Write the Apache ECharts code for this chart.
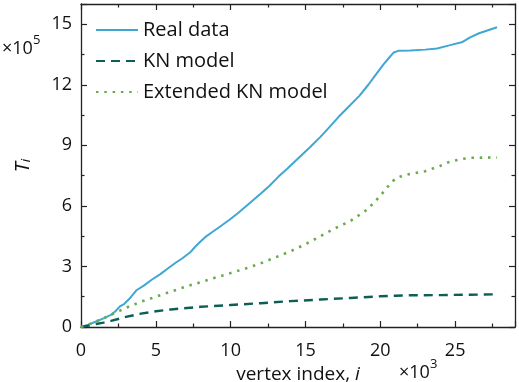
<!DOCTYPE html>
<html>
<head>
<meta charset="utf-8">
<script src="https://cdn.jsdelivr.net/npm/echarts@6/dist/echarts.min.js"></script>
<style>
  html, body { margin: 0; padding: 0; background: #fff; }
  #chart { width: 519px; height: 382px; }
</style>
</head>
<body>
<div id="chart"></div>
<script>
  // x in thousands of vertices, y in units of 1e5
  var realX = [0, 0.5, 1, 1.5, 2, 2.3, 2.6, 2.9, 3.3, 3.7, 4.2, 4.7, 5.3, 5.8, 6.3, 6.8, 7.3, 7.6, 8.0, 8.3, 8.8, 9.3, 9.9, 10.5, 11.3, 12.0, 12.6, 13.2, 13.8, 14.5, 15.3, 16.0, 16.6, 17.2, 17.8, 18.6, 19.2, 19.7, 20.2, 20.6, 20.9, 21.2, 22.0, 23.0, 23.8, 24.6, 25.5, 26.0, 26.6, 27.2, 27.8]
  var realY = [0, 0.12, 0.27, 0.43, 0.6, 0.78, 1.02, 1.15, 1.45, 1.82, 2.05, 2.33, 2.62, 2.9, 3.17, 3.42, 3.7, 3.95, 4.25, 4.45, 4.72, 4.98, 5.3, 5.65, 6.15, 6.6, 7.0, 7.45, 7.85, 8.35, 8.9, 9.42, 9.9, 10.4, 10.85, 11.45, 12.0, 12.5, 13.0, 13.35, 13.6, 13.68, 13.7, 13.74, 13.8, 13.95, 14.12, 14.35, 14.55, 14.7, 14.85]
  var knX = [0, 0.5, 1, 1.5, 2, 3, 4, 5, 6, 8, 10, 12, 14, 16, 18, 20, 21, 22, 24, 26, 27.7]
  var knY = [0, 0.07, 0.15, 0.22, 0.3, 0.5, 0.66, 0.78, 0.87, 1.0, 1.09, 1.18, 1.28, 1.36, 1.44, 1.52, 1.55, 1.57, 1.58, 1.6, 1.62]
  var extX = [0, 0.5, 1, 1.5, 2, 3, 4, 5, 6, 7, 8, 9, 10, 11, 12, 13, 14, 15, 16, 17, 18, 19, 19.5, 20, 20.5, 21, 21.5, 22, 23, 24, 24.5, 25, 25.5, 26, 27, 27.8]
  var extY = [0, 0.12, 0.27, 0.43, 0.6, 0.95, 1.25, 1.5, 1.75, 2.0, 2.22, 2.45, 2.67, 2.9, 3.15, 3.45, 3.75, 4.1, 4.5, 4.9, 5.25, 5.75, 6.1, 6.5, 6.95, 7.35, 7.5, 7.58, 7.72, 7.98, 8.15, 8.25, 8.33, 8.38, 8.39, 8.4]
  var xTicks = [0, 5, 10, 15, 20, 25]
  var yTicks = [0, 3, 6, 9, 12, 15]

  function pairs(xs, ys) {
    return xs.map(function (x, i) { return [x, ys[i]] })
  }

  var font = 'Open Sans'
  var ink = '#111'
  var axisColor = '#222'

  function frameAxis(pos, isX, showLabels) {
    var ticks = isX ? xTicks : yTicks
    return {
      type: 'value',
      position: pos,
      min: 0,
      max: isX ? 29 : 16,
      interval: isX ? 5 : 3,
      axisLine: { show: true, onZero: false, lineStyle: { color: axisColor, width: 1.3 } },
      axisTick: { show: true, inside: true, length: 6, lineStyle: { color: axisColor, width: 1.2 } },
      minorTick: { show: true, splitNumber: 2, length: 3.5, lineStyle: { color: axisColor, width: 1.2 } },
      splitLine: { show: false },
      axisLabel: {
        show: showLabels,
        margin: isX ? 15 : 9,
        fontFamily: font,
        fontSize: 18,
        color: ink,
        showMaxLabel: false,
        formatter: function (v) { return ticks.indexOf(v) >= 0 ? String(v) : '' }
      }
    }
  }

  var xBottom = frameAxis('bottom', true, true)
  xBottom.name = 'vertex index, {i|i}'
  xBottom.nameLocation = 'middle'
  xBottom.nameGap = 31
  xBottom.nameTextStyle = { fontFamily: font, fontSize: 19, color: ink, rich: { i: { fontFamily: font, fontSize: 19, fontStyle: 'italic', color: ink } } }

  var yLeft = frameAxis('left', false, true)
  yLeft.name = '{t|T}{s|i}'
  yLeft.nameLocation = 'middle'
  yLeft.nameGap = 48
  yLeft.nameTextStyle = {
    rich: {
      t: { fontFamily: font, fontSize: 20, fontStyle: 'italic', color: ink, verticalAlign: 'bottom' },
      s: { fontFamily: font, fontSize: 13, fontStyle: 'italic', color: ink, verticalAlign: 'bottom', padding: [10, 0, 0, 0] }
    }
  }

  function power(txt, exp) {
    return {
      text: '{a|' + txt + '}{b|' + exp + '}',
      rich: {
        a: { fontFamily: font, fontSize: 18, lineHeight: 24, verticalAlign: 'bottom', fill: ink },
        b: { fontFamily: font, fontSize: 13, lineHeight: 24, verticalAlign: 'top', fill: ink }
      }
    }
  }

  var chart = echarts.init(document.getElementById('chart'))
  chart.setOption({
    animation: false,
    backgroundColor: '#fff',
    grid: { left: 81, right: 4, top: 4, bottom: 55, containLabel: false, outerBoundsMode: 'none' },
    legend: {
      left: 90,
      top: 15,
      orient: 'vertical',
      itemWidth: 42,
      itemHeight: 14,
      itemGap: 11,
      itemStyle: { opacity: 0 },
      textStyle: { fontFamily: font, fontSize: 20, color: ink },
      data: ['Real data', 'KN model', 'Extended KN model']
    },
    xAxis: [xBottom, frameAxis('top', true, false)],
    yAxis: [yLeft, frameAxis('right', false, false)],
    graphic: [
      { type: 'text', left: 2, top: 34, style: power('×10', '5') },
      { type: 'text', left: 399, top: 358, style: power('×10', '3') }
    ],
    series: [
      {
        name: 'Real data',
        type: 'line',
        symbol: 'none',
        data: pairs(realX, realY),
        lineStyle: { color: '#3fa7d2', width: 2 },
        itemStyle: { color: '#3fa7d2' }
      },
      {
        name: 'KN model',
        type: 'line',
        symbol: 'none',
        data: pairs(knX, knY),
        lineStyle: { color: '#0c5f52', width: 2.4, type: [9, 6] },
        itemStyle: { color: '#0c5f52' }
      },
      {
        name: 'Extended KN model',
        type: 'line',
        symbol: 'none',
        data: pairs(extX, extY),
        lineStyle: { color: '#6aaa4c', width: 2.6, type: [2.5, 5.8] },
        itemStyle: { color: '#6aaa4c' }
      }
    ]
  })
</script>
</body>
</html>
